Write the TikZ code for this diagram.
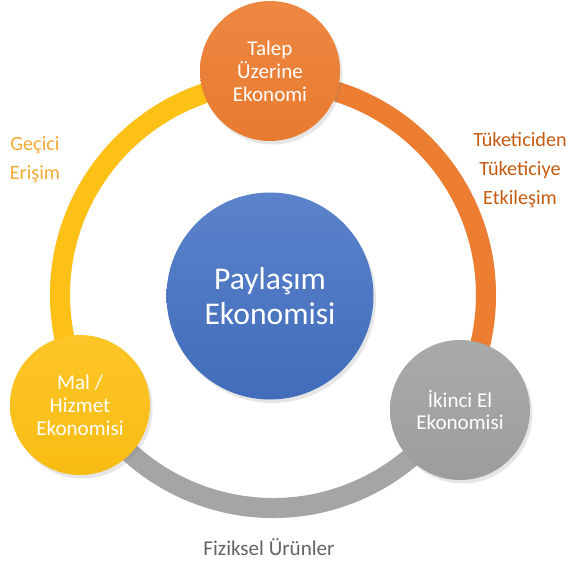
\documentclass[tikz,border=0pt]{standalone}
\usepackage{fontspec}
\setmainfont{Carlito}
\usepackage{xcolor}
\usepackage{tikz}
\usetikzlibrary{backgrounds,shadows}
\definecolor{coreblue}{RGB}{68,114,196}
\definecolor{ringorange}{RGB}{237,125,49}
\definecolor{ringyellow}{RGB}{253,192,20}
\definecolor{ringgray}{RGB}{165,165,165}
\definecolor{labyellow}{RGB}{242,170,50}
\definecolor{laborange}{RGB}{197,90,17}
\definecolor{labgray}{RGB}{100,100,100}

\begin{document}
\begin{tikzpicture}[
  hub/.style={circle, inner sep=0pt, minimum size=2.8cm, align=center, text=white,
    font=\fontsize{12}{13}\selectfont,
    drop shadow={opacity=0.2, shadow xshift=0.05cm, shadow yshift=-0.07cm}},
  core/.style={hub, minimum size=4.14cm, font=\fontsize{18}{20}\selectfont},
  band/.style={line width=0.4cm, draw=#1},
  lab/.style={align=center, font=\fontsize{11.5}{16.5}\selectfont}
]
\useasboundingbox (0,0) rectangle (11.54,11.22);
\coordinate (ring) at (5.46,5.32);

\node[core, top color=coreblue!88!white, bottom color=coreblue!95!black] (pay) at (5.40,5.30) {Paylaşım\\Ekonomisi};
\node[hub, top color=ringorange!92!white, bottom color=ringorange!98!black] (talep) at (5.40,9.80) {Talep\\Üzerine\\Ekonomi};
\node[hub, top color=ringyellow!92!white, bottom color=ringyellow!98!black] (mal) at (1.60,3.12) {Mal /\\Hizmet\\Ekonomisi};
\node[hub, top color=ringgray!95!white, bottom color=ringgray!95!black] (ikinci) at (9.20,3.02) {İkinci El\\Ekonomisi};

\begin{scope}[on background layer]
\foreach \a/\b/\c in {90/210/ringyellow,90/-32/ringorange,210/328/ringgray} {
  \draw[band=black, opacity=0.1, xshift=0.04cm, yshift=-0.07cm] (ring) ++(\a:4.26) arc[start angle=\a, end angle=\b, radius=4.26];
  \draw[band=\c] (ring) ++(\a:4.26) arc[start angle=\a, end angle=\b, radius=4.26];
}
\end{scope}

\node[lab, text=labyellow] (gecici) at (0.70,8.02) {Geçici\\Erişim};
\node[lab, text=laborange] (tuketici) at (10.40,7.82) {Tüketiciden\\Tüketiciye\\Etkileşim};
\node[lab, text=labgray, font=\fontsize{12}{14}\selectfont] (fiziksel) at (5.38,0.28) {Fiziksel Ürünler};
\end{tikzpicture}
\end{document}
